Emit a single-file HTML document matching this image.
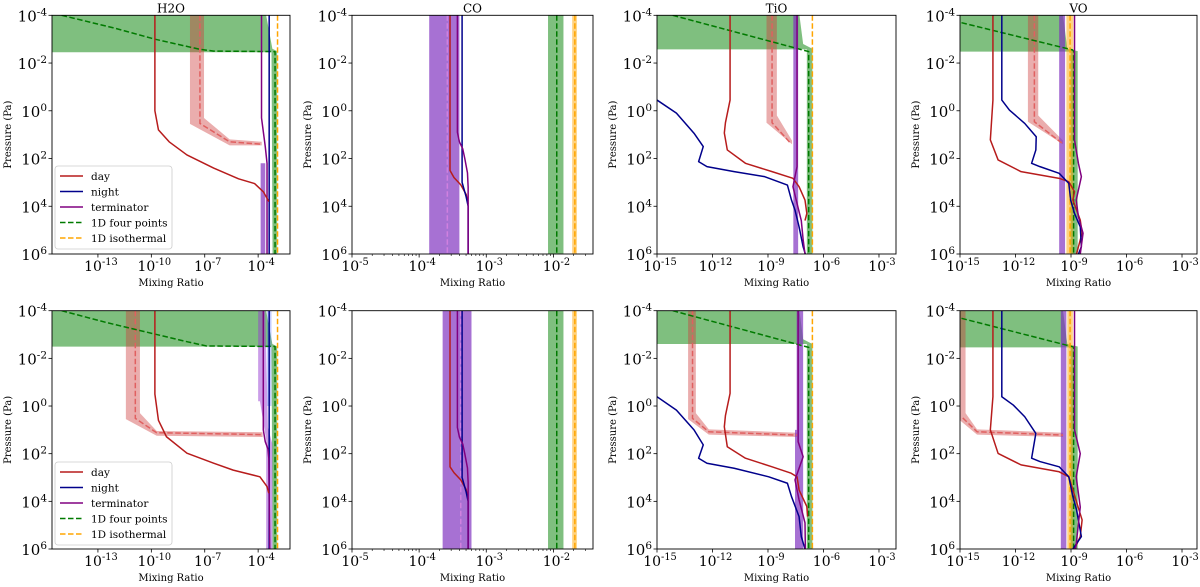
<!DOCTYPE html>
<html><head><meta charset="utf-8">
<style>
html,body{margin:0;padding:0;background:#fff;}
svg{display:block;font-family:"DejaVu Serif","Liberation Serif",serif;}
</style></head>
<body>
<svg id="chart" width="1200" height="587" viewBox="0 0 1200 587" xmlns="http://www.w3.org/2000/svg"></svg>
<script>
// ===== DATA: each point is [log10 mixing ratio, log10 pressure (Pa)] =====
const panelTitles = ["H2O","CO","TiO","VO"];
const yTickExps = [-4,-2,0,2,4,6];
const xTickExpsH2O = [-13,-10,-7,-4];
const xTickExpsCO = [-5,-4,-3,-2];
const xTickExpsTiO = [-15,-12,-9,-6,-3];
const xTickExpsVO = [-15,-12,-9,-6,-3];
const legendLabels = ["day","night","terminator","1D four points","1D isothermal"];

// H2O top
const h2oTopGreenFill=[[-15.6,-4],[-3.55,-4],[-3.2,-2.6],[-2.93,-2.5],[-2.93,6],[-3.19,6],[-3.25,-2.45],[-15.6,-2.45]];
const h2oTopGreen=[[-15.04,-4],[-12,-3.45],[-9.8,-3.0],[-7.3,-2.58],[-6.5,-2.5],[-3.05,-2.48],[-3.05,6]];
const h2oTopIso=[[-2.91,-4],[-2.91,6]];
const h2oTopNight=[[-3.38,-4],[-3.38,6]];
const h2oTopTerm=[[-3.81,-4],[-3.81,0.3],[-3.6,1.5],[-3.5,2.2],[-3.5,6]];
const h2oTopTermFill=[[-3.86,2.2],[-3.6,2.2],[-3.6,6],[-3.86,6]];
const h2oTopDay=[[-9.8,-4],[-9.8,0],[-9.6,0.8],[-9.0,1.3],[-8,1.85],[-6.5,2.4],[-5.1,2.85],[-4.2,3.05],[-3.7,3.4],[-3.4,3.8]];
const h2oTopDayFill=[[-7.83,-4],[-7.04,-4],[-7.04,0.3],[-5.6,1.2],[-3.8,1.3],[-3.8,1.45],[-5.6,1.45],[-7.83,0.55]];
const h2oTopDayRet=[[-7.27,-4],[-7.27,0.53],[-5.6,1.3],[-3.8,1.4]];
// H2O bottom
const h2oBotGreenFill=[[-15.6,-4],[-3.55,-4],[-3.2,-2.6],[-2.93,-2.5],[-2.93,6],[-3.19,6],[-3.25,-2.49],[-15.6,-2.49]];
const h2oBotGreen=[[-15.04,-4],[-12.5,-3.5],[-9.98,-3.05],[-8,-2.7],[-6.9,-2.52],[-3.05,-2.5],[-3.05,6]];
const h2oBotIso=[[-2.91,-4],[-2.91,6]];
const h2oBotNight=[[-3.38,-4],[-3.38,6]];
const h2oBotNightFill=[[-3.5,-4],[-3.25,-4],[-3.25,0],[-3.5,0]];
const h2oBotTerm=[[-3.71,-4],[-3.71,1.0],[-3.6,1.5],[-3.45,1.8],[-3.4,2.2],[-3.35,6]];
const h2oBotTermFill=[[-4.0,-4],[-3.6,-4],[-3.45,0.9],[-3.2,1.6],[-3.2,6],[-3.55,6],[-3.55,1.4],[-3.9,-0.2],[-4.0,-0.2]];
const h2oBotDay=[[-9.8,-4],[-9.8,-0.5],[-9.6,0.6],[-9.15,1.29],[-8.0,1.98],[-6.5,2.4],[-5.4,2.69],[-3.9,2.97],[-3.5,3.38],[-3.4,3.66]];
const h2oBotDayFill=[[-11.43,-4],[-10.64,-4],[-10.64,0.3],[-9.7,1.05],[-3.75,1.1],[-3.75,1.3],[-9.7,1.25],[-11.43,0.55]];
const h2oBotDayRet=[[-10.9,-4],[-10.9,0.52],[-9.7,1.12],[-3.75,1.2]];
// CO top
const coTopTermFill=[[-3.85,-4],[-3.40,-4],[-3.40,6],[-3.85,6]];
const coTopTermRet=[[-3.58,-4],[-3.58,6]];
const coTopDay=[[-3.54,-4],[-3.54,2.5],[-3.48,2.8],[-3.38,3.1],[-3.3,3.5],[-3.27,3.9]];
const coTopNight=[[-3.36,-4],[-3.36,3.0],[-3.3,3.6],[-3.27,4.0],[-3.27,6]];
const coTopTerm=[[-3.43,-4],[-3.43,0.9],[-3.4,1.3],[-3.35,1.6],[-3.32,2.0],[-3.28,2.6],[-3.27,3.2],[-3.27,6]];
const coTopGreenFill=[[-2.08,-4],[-1.85,-4],[-1.85,6],[-2.08,6]];
const coTopGreen=[[-1.95,-4],[-1.95,6]];
const coTopIsoFill=[[-1.72,-4],[-1.65,-4],[-1.65,6],[-1.72,6]];
const coTopIso=[[-1.68,-4],[-1.68,6]];
// CO bottom
const coBotTermFill=[[-3.65,-4],[-3.22,-4],[-3.22,6],[-3.65,6]];
const coBotTermRet=[[-3.38,-4],[-3.38,6]];
const coBotDay=[[-3.54,-4],[-3.54,2.55],[-3.48,2.8],[-3.38,3.1],[-3.3,3.5],[-3.27,3.9]];
const coBotNight=[[-3.36,-4],[-3.36,3.0],[-3.3,3.6],[-3.27,4.0],[-3.27,6]];
const coBotTerm=[[-3.43,-4],[-3.43,0.9],[-3.4,1.3],[-3.35,1.6],[-3.32,2.0],[-3.28,2.6],[-3.27,3.2],[-3.27,6]];
const coBotGreenFill=[[-2.08,-4],[-1.85,-4],[-1.85,6],[-2.08,6]];
const coBotGreen=[[-1.95,-4],[-1.95,6]];
const coBotIsoFill=[[-1.72,-4],[-1.65,-4],[-1.65,6],[-1.72,6]];
const coBotIso=[[-1.68,-4],[-1.68,6]];
// TiO top
const tioTopGreenFill=[[-15,-4],[-7.3,-4],[-7.1,-2.8],[-6.6,-2.6],[-6.6,6],[-6.9,6],[-6.9,-2.57],[-15,-2.57]];
const tioTopGreen=[[-14.15,-4],[-6.8,-2.48],[-6.8,6]];
const tioTopIso=[[-6.6,-4],[-6.6,6]];
const tioTopDay=[[-11.05,-4],[-11.05,-0.45],[-11.3,0.5],[-11.36,0.93],[-11.2,1.64],[-10.22,2.2],[-8.78,2.55],[-7.65,2.83],[-7.32,3.18],[-7.0,3.74],[-6.9,4.3],[-7.0,4.6]];
const tioTopNight=[[-15,-0.45],[-13.95,0.1],[-13.0,0.94],[-12.5,1.5],[-12.75,2.13],[-12.3,2.34],[-10.83,2.55],[-9.18,2.76],[-7.95,3.11],[-7.73,3.74],[-7.54,4.16],[-7.32,4.86],[-7.1,5.7],[-6.98,6]];
const tioTopTerm=[[-7.43,-4],[-7.43,2.34],[-7.65,3.18],[-7.43,3.88],[-7.2,4.6],[-7.1,5.4],[-7.0,6]];
const tioTopTermFill=[[-7.63,-4],[-7.37,-4],[-7.37,6],[-7.63,6]];
const tioTopDayFill=[[-9.08,-4],[-8.52,-4],[-8.52,0.2],[-7.7,1.25],[-7.7,1.4],[-9.08,0.5]];
const tioTopDayRet=[[-8.78,-4],[-8.78,0.5],[-7.8,1.34]];
// TiO bottom
const tioBotGreenFill=[[-15,-4],[-7.3,-4],[-7.1,-2.8],[-6.6,-2.6],[-6.6,6],[-6.9,6],[-6.9,-2.6],[-15,-2.6]];
const tioBotGreen=[[-14.15,-4],[-6.8,-2.46],[-6.8,6]];
const tioBotIso=[[-6.6,-4],[-6.6,6]];
const tioBotDayFill=[[-13.32,-4],[-12.9,-4],[-12.9,0.3],[-12.2,0.98],[-7.43,1.12],[-7.43,1.3],[-12.2,1.2],[-13.32,0.55]];
const tioBotDayRet=[[-13.08,-4],[-13.08,0.52],[-12.2,1.08],[-7.43,1.22]];
const tioBotDay=[[-11.05,-4],[-11.05,-0.53],[-11.3,0.4],[-11.36,0.87],[-11.2,1.71],[-10.22,2.19],[-8.78,2.55],[-7.75,2.82],[-7.43,2.97],[-7.32,3.52],[-6.9,4.22],[-6.86,4.64]];
const tioBotNight=[[-15,-0.39],[-13.95,0.17],[-13.0,1.0],[-12.5,1.63],[-12.75,2.19],[-12.3,2.4],[-10.83,2.61],[-8.96,2.97],[-7.95,3.24],[-7.73,3.8],[-7.32,4.64],[-7.2,5.48],[-7.0,6]];
const tioBotTerm=[[-7.37,-4],[-7.37,1.5],[-7.1,2.13],[-7.54,3.1],[-7.32,3.94],[-7.0,4.9],[-6.98,6]];
const tioBotTermFill=[[-7.45,-4],[-7.1,-4],[-7.1,6],[-7.54,6],[-7.54,1.0],[-7.45,1.0]];
// VO top
const voTopGreenFill=[[-15,-4],[-9.43,-4],[-9.2,-2.6],[-8.64,-2.5],[-8.64,6],[-9.02,6],[-9.02,-2.48],[-15,-2.48]];
const voTopGreen=[[-14.92,-3.69],[-8.92,-2.55],[-8.86,-2.5],[-8.86,6]];
const voTopIsoFill=[[-9.25,-4],[-8.88,-4],[-8.88,6],[-9.25,6]];
const voTopIso=[[-9.05,-4],[-9.05,6]];
const voTopTermFill=[[-9.64,-4],[-9.32,-4],[-9.32,6],[-9.64,6]];
const voTopTerm=[[-8.81,-4],[-8.81,1.22],[-8.6,2.2],[-8.44,2.76],[-8.72,3.74],[-8.6,4.44],[-8.35,5.13],[-8.5,6]];
const voTopDay=[[-13.22,-4],[-13.22,-0.45],[-13.36,1.22],[-12.94,2.06],[-11.7,2.55],[-9.64,2.83],[-9.12,2.97],[-8.81,3.39],[-8.9,3.74],[-8.5,4.58],[-8.4,5.13],[-8.6,5.7],[-8.7,6]];
const voTopNight=[[-12.74,-4],[-12.74,-0.45],[-12.33,-0.03],[-11.5,0.53],[-10.88,1.09],[-10.9,1.64],[-11.13,2.2],[-10.68,2.34],[-9.64,2.62],[-9.12,3.04],[-9.02,3.74],[-8.81,4.3],[-8.5,4.86],[-8.44,5.7],[-8.6,6]];
const voTopDayFill=[[-11.33,-4],[-10.77,-4],[-10.77,0.2],[-9.43,1.25],[-9.43,1.4],[-11.33,0.46]];
const voTopDayRet=[[-10.98,-4],[-10.98,0.46],[-9.5,1.35]];
// VO bottom
const voBotGreenFill=[[-15,-4],[-9.43,-4],[-9.2,-2.6],[-8.64,-2.5],[-8.64,6],[-9.02,6],[-9.02,-2.46],[-15,-2.46]];
const voBotGreen=[[-14.92,-3.68],[-8.92,-2.49],[-8.86,-2.46],[-8.86,6]];
const voBotIsoFill=[[-9.2,-4],[-8.9,-4],[-8.9,6],[-9.2,6]];
const voBotIso=[[-9.05,-4],[-9.05,6]];
const voBotTermFill=[[-9.55,-4],[-9.25,-4],[-9.25,6],[-9.55,6]];
const voBotTerm=[[-8.81,-4],[-8.81,1.0],[-8.5,2.0],[-8.72,2.97],[-8.5,4.24],[-8.72,5.8],[-8.75,6]];
const voBotDay=[[-13.22,-4],[-13.22,-0.39],[-13.36,1.0],[-12.94,1.99],[-11.7,2.47],[-9.64,2.76],[-9.12,2.97],[-8.9,3.52],[-8.4,4.78],[-8.5,5.48],[-8.81,6]];
const voBotNight=[[-12.74,-4],[-12.74,-0.39],[-12.12,-0.04],[-11.5,0.45],[-10.9,1.15],[-11.13,2.19],[-10.68,2.33],[-9.64,2.55],[-9.12,2.97],[-8.9,3.8],[-8.7,4.36],[-8.44,5.48],[-8.9,6]];
const voBotDayFill=[[-15,-4],[-14.7,-4],[-14.7,0.3],[-14.08,0.98],[-9.43,1.12],[-9.43,1.3],[-14.08,1.2],[-15,0.6]];
const voBotDayRet=[[-14.85,0.5],[-14.08,1.08],[-9.43,1.22]];

// ===== STYLES / LAYOUT =====
const C={day:"#b71c1c",night:"#00008b",term:"#800080",green:"#007a00",iso:"#ffa500",
 greenFill:"rgba(0,128,0,0.5)",dayFill:"rgba(205,60,60,0.42)",termFill:"rgba(125,45,190,0.68)",
 isoFill:"rgba(255,165,0,0.5)",nightFill:"rgba(60,90,255,0.3)",dayRet:"#e06060",termRet:"#d080e0"};
const cols=[{L:52,R:290,xmin:-15.58,xmax:-2.21,ticks:xTickExpsH2O,minor:false},
 {L:352,R:593,xmin:-5,xmax:-1.41,ticks:xTickExpsCO,minor:true},
 {L:657,R:896,xmin:-15,xmax:-2.08,ticks:xTickExpsTiO,minor:false},
 {L:960,R:1197,xmin:-15,xmax:-2.19,ticks:xTickExpsVO,minor:false}];
const rows=[{T:15.3,B:254},{T:310.7,B:549}];

const panelLayers=[
 [ // H2O
  [[h2oTopGreenFill,"fill",C.greenFill],[h2oTopDayFill,"fill",C.dayFill],[h2oTopTermFill,"fill",C.termFill],
   [h2oTopDayRet,"dash",C.dayRet],[h2oTopGreen,"dash",C.green],[h2oTopIso,"dash",C.iso],[h2oTopNight,"line",C.night],[h2oTopTerm,"line",C.term],[h2oTopDay,"line",C.day]],
  [[h2oBotGreenFill,"fill",C.greenFill],[h2oBotDayFill,"fill",C.dayFill],[h2oBotTermFill,"fill","rgba(150,60,210,0.5)"],[h2oBotNightFill,"fill",C.nightFill],
   [h2oBotDayRet,"dash",C.dayRet],[h2oBotGreen,"dash",C.green],[h2oBotIso,"dash",C.iso],[h2oBotNight,"line",C.night],[h2oBotTerm,"line",C.term],[h2oBotDay,"line",C.day]]
 ],
 [ // CO
  [[coTopTermFill,"fill",C.termFill],[coTopGreenFill,"fill",C.greenFill],[coTopIsoFill,"fill",C.isoFill],
   [coTopTermRet,"dash",C.termRet],[coTopGreen,"dash",C.green],[coTopIso,"dash",C.iso],[coTopDay,"line",C.day],[coTopNight,"line",C.night],[coTopTerm,"line",C.term]],
  [[coBotTermFill,"fill",C.termFill],[coBotGreenFill,"fill",C.greenFill],[coBotIsoFill,"fill",C.isoFill],
   [coBotTermRet,"dash",C.termRet],[coBotGreen,"dash",C.green],[coBotIso,"dash",C.iso],[coBotDay,"line",C.day],[coBotNight,"line",C.night],[coBotTerm,"line",C.term]]
 ],
 [ // TiO
  [[tioTopGreenFill,"fill",C.greenFill],[tioTopDayFill,"fill",C.dayFill],[tioTopTermFill,"fill",C.termFill],
   [tioTopDayRet,"dash",C.dayRet],[tioTopGreen,"dash",C.green],[tioTopIso,"dash",C.iso],[tioTopDay,"line",C.day],[tioTopNight,"line",C.night],[tioTopTerm,"line",C.term]],
  [[tioBotGreenFill,"fill",C.greenFill],[tioBotDayFill,"fill",C.dayFill],[tioBotTermFill,"fill",C.termFill],
   [tioBotDayRet,"dash",C.dayRet],[tioBotGreen,"dash",C.green],[tioBotIso,"dash",C.iso],[tioBotDay,"line",C.day],[tioBotNight,"line",C.night],[tioBotTerm,"line",C.term]]
 ],
 [ // VO
  [[voTopGreenFill,"fill",C.greenFill],[voTopDayFill,"fill",C.dayFill],[voTopTermFill,"fill",C.termFill],[voTopIsoFill,"fill",C.isoFill],
   [voTopDayRet,"dash",C.dayRet],[voTopGreen,"dash",C.green],[voTopIso,"dash",C.iso],[voTopDay,"line",C.day],[voTopNight,"line",C.night],[voTopTerm,"line",C.term]],
  [[voBotGreenFill,"fill",C.greenFill],[voBotDayFill,"fill",C.dayFill],[voBotTermFill,"fill",C.termFill],[voBotIsoFill,"fill",C.isoFill],
   [voBotDayRet,"dash",C.dayRet],[voBotGreen,"dash",C.green],[voBotIso,"dash",C.iso],[voBotDay,"line",C.day],[voBotNight,"line",C.night],[voBotTerm,"line",C.term]]
 ]
];

const NS="http://www.w3.org/2000/svg";
const svg=document.getElementById("chart");
function mk(tag,attrs,parent){const e=document.createElementNS(NS,tag);for(const k in attrs)e.setAttribute(k,attrs[k]);(parent||svg).appendChild(e);return e;}
function xScale(c,lx){return c.L+(lx-c.xmin)/(c.xmax-c.xmin)*(c.R-c.L);}
function yScale(r,lp){return r.T+(lp+4)/10*(r.B-r.T);}
function pts(c,r,arr){return arr.map(p=>xScale(c,p[0]).toFixed(2)+","+yScale(r,p[1]).toFixed(2)).join(" ");}
function supText(parent,x,y,anchor,exp,size){
  const t=mk("text",{x:x,y:y,"text-anchor":anchor,"font-size":size,fill:"#000"},parent);
  
  
  const a=mk("tspan",{},t);a.textContent="10";
  const b=mk("tspan",{dy:-6,"font-size":size*0.7},t);b.textContent=String(exp);
  return t;
}

cols.forEach((c,ci)=>{
 rows.forEach((r,ri)=>{
  const g=mk("g",{});
  
  
  const cid="clip"+ci+"_"+ri;
  const cp=mk("clipPath",{id:cid},g);
  mk("rect",{x:c.L,y:r.T,width:c.R-c.L,height:r.B-r.T},cp);
  const plot=mk("g",{"clip-path":"url(#"+cid+")"},g);
  
  
  panelLayers[ci][ri].forEach(layer=>{
   const arr=layer[0],kind=layer[1],col=layer[2];
   if(kind==="fill"){
    const e=mk("polygon",{points:pts(c,r,arr),fill:col,stroke:"none"},plot);
    
    
   } else {
    const e=mk("polyline",{points:pts(c,r,arr),fill:"none",stroke:col,"stroke-width":1.5,"stroke-linejoin":"round"},plot);
    if(kind==="dash")e.setAttribute("stroke-dasharray","5.5,2.5");
    
    
   }
  });
  // frame
  const fr=mk("rect",{x:c.L,y:r.T,width:c.R-c.L,height:r.B-r.T,fill:"none",stroke:"#000","stroke-width":0.9},g);
  
  
  // y ticks
  yTickExps.forEach(e=>{
   const y=yScale(r,e);
   mk("line",{x1:c.L-3.5,x2:c.L,y1:y,y2:y,stroke:"#000","stroke-width":0.8},g);
   supText(g,c.L-5,y+6,"end",e,15);
  });
  // x ticks
  c.ticks.forEach(e=>{
   const x=xScale(c,e);
   mk("line",{x1:x,x2:x,y1:r.B,y2:r.B+3.5,stroke:"#000","stroke-width":0.8},g);
   supText(g,x+3,r.B+17,"middle",e,14);
  });
  if(c.minor){
   for(let d=Math.floor(c.xmin);d<c.xmax;d++){for(let m=2;m<10;m++){const lx=d+Math.log10(m);if(lx>c.xmin&&lx<c.xmax){const x=xScale(c,lx);mk("line",{x1:x,x2:x,y1:r.B,y2:r.B+2,stroke:"#000","stroke-width":0.6},g);}}}
  }
  const yl=mk("text",{x:0,y:0,transform:"translate("+(c.L-41)+","+((r.T+r.B)/2)+") rotate(-90)","text-anchor":"middle","font-size":10},g);
  yl.textContent="Pressure (Pa)";
  
  
  const xl=mk("text",{x:(c.L+c.R)/2,y:r.B+32,"text-anchor":"middle","font-size":10},g);
  xl.textContent="Mixing Ratio";
  
  
  if(ri===0){
   const tt=mk("text",{x:(c.L+c.R)/2,y:r.T-3,"text-anchor":"middle","font-size":12},g);
   tt.textContent=panelTitles[ci];
   
   
  }
  // legend in H2O panels
  if(ci===0){
   const lg=mk("g",{});
   
   
   const top=ri===0?166:462;
   mk("rect",{x:55,y:top,width:117,height:83,rx:3,fill:"#fff","fill-opacity":0.85,stroke:"#ccc","stroke-width":0.8},lg);
   const lc=[C.day,C.night,C.term,C.green,C.iso];
   legendLabels.forEach((lab,i)=>{
    const yy=top+10+i*15.5;
    const ln=mk("line",{x1:60,x2:83,y1:yy,y2:yy,stroke:lc[i],"stroke-width":1.6},lg);
    if(i>=3)ln.setAttribute("stroke-dasharray","5.5,2.5");
    const tx=mk("text",{x:91,y:yy+4,"font-size":10.5},lg);
    tx.textContent=lab;
    
    
   });
  }
 });
});
</script>
</body></html>
